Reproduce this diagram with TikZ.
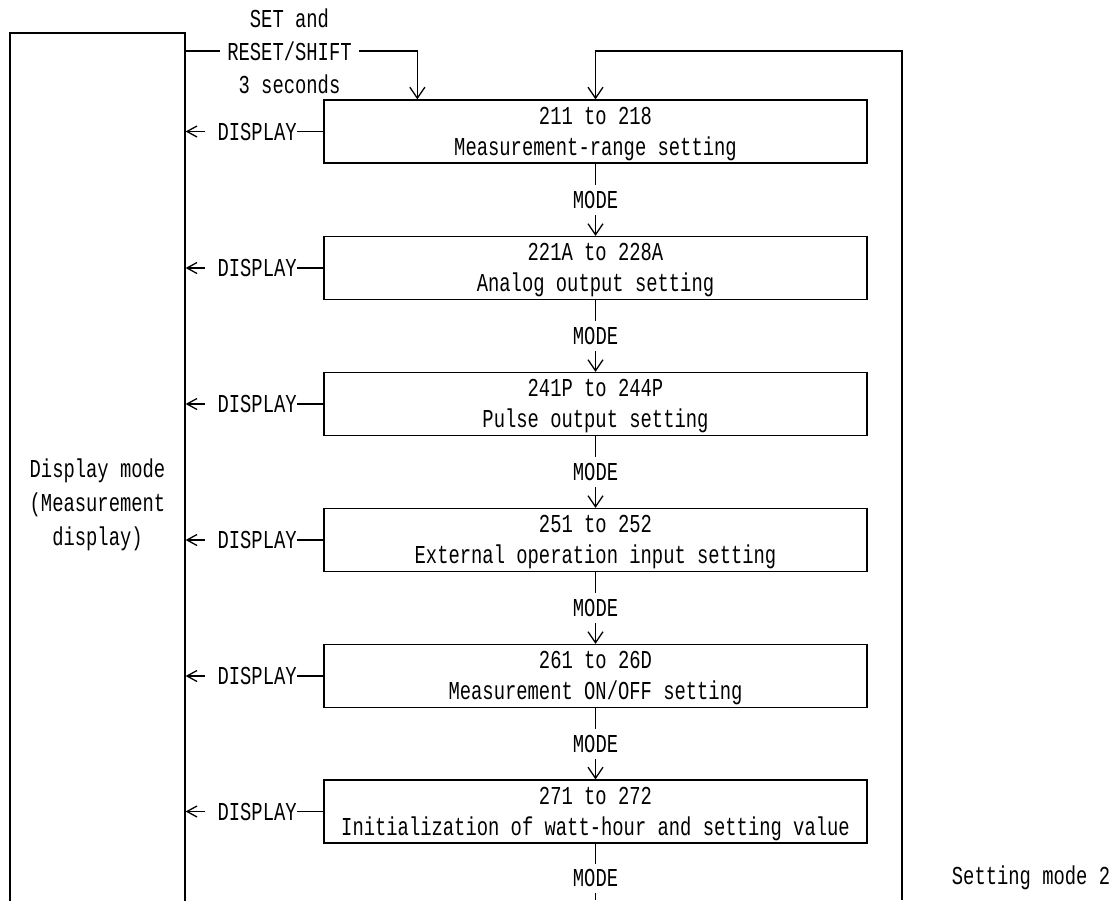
\documentclass[tikz,border=0pt]{standalone}
\usepackage{fontspec}
\setmainfont[FakeStretch=0.73]{Liberation Mono}
\usetikzlibrary{arrows.meta,calc}
\newcommand{\topstrut}{\rule{0pt}{22pt}}
\begin{document}
\begin{tikzpicture}[x=1pt,y=-1pt,
  every node/.style={font=\fontsize{25.8}{31}\selectfont},
  stepbox/.style={draw, line width=1.3pt, minimum width=543pt, minimum height=63pt, inner sep=0pt, align=center},
  conn/.style={line width=1.3pt},
  arr/.style={conn, -{Straight Barb[length=11pt,width=15pt]}},
  darr/.style={conn, -{Straight Barb[length=10pt,width=11pt]}},
  modelbl/.style={fill=white, inner xsep=2pt, inner ysep=6pt}
]
\useasboundingbox (0,0) rectangle (1115,900);
\node[draw, line width=1.3pt, minimum width=175pt, minimum height=944pt, inner sep=0pt, align=center, font=\fontsize{25.8}{34}\selectfont] (disp) at (97.5,505) {Display mode\\(Measurement\\display)};

\node[stepbox] (b1) at (595.5,131.5) {\topstrut 211 to 218\\Measurement-range setting};
\node[stepbox] (b2) at (595.5,268) {\topstrut 221A to 228A\\Analog output setting};
\node[stepbox] (b3) at (595.5,404) {\topstrut 241P to 244P\\Pulse output setting};
\node[stepbox] (b4) at (595.5,540) {\topstrut 251 to 252\\External operation input setting};
\node[stepbox] (b5) at (595.5,676) {\topstrut 261 to 26D\\Measurement ON/OFF setting};
\node[stepbox] (b6) at (595.5,811.5) {\topstrut 271 to 272\\Initialization of watt-hour and setting value};

\foreach \a/\b in {b1/b2,b2/b3,b3/b4,b4/b5,b5/b6}
  \draw[arr] (\a.south) -- node[modelbl]{MODE} (\b.north);

\coordinate (bend) at (595.5,900);
\draw[conn] (b6.south) -- node[modelbl, pos=0.614]{MODE} (bend);

\foreach \b in {b1,b2,b3,b4,b5,b6} {
  \draw[conn] (\b.west) -- ++(-26,0) node[left, inner sep=0pt]{DISPLAY};
  \draw[darr] ($(disp.east|-\b.west)+(19,0)$) -- (disp.east|-\b.west);
}

\node[align=center, inner xsep=7pt, inner ysep=0pt, font=\fontsize{25.8}{33}\selectfont] (set) at (289.5,51) {SET and\\RESET/SHIFT\\3 seconds};
\draw[conn] (disp.east|-set.west) -- (set.west);
\draw[arr] (set.east) -| ($(b1.north west)+(94,0)$);

\coordinate (lp) at (902,900);
\draw[arr] (lp) |- (b1.north |- set.east) -- (b1.north);

\node (sm) at (1031,878) {Setting mode 2};
\end{tikzpicture}
\end{document}
